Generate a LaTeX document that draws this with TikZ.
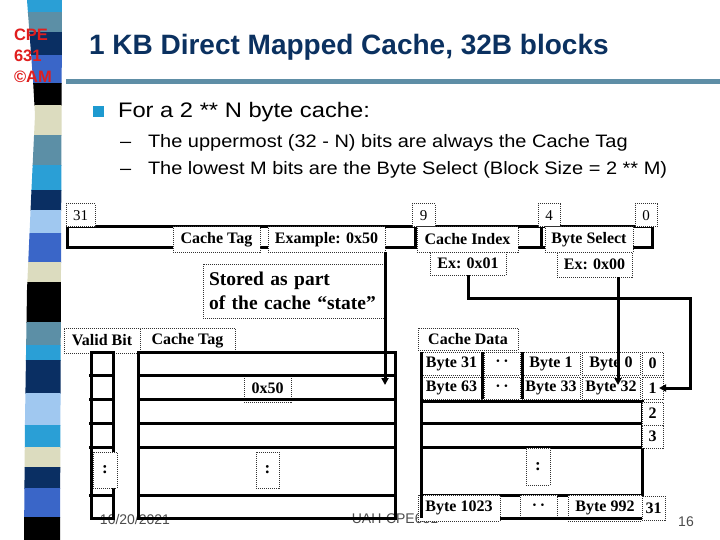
\documentclass[tikz,border=0pt]{standalone}
\usepackage{fontspec}
\usepackage{graphicx}
\setmainfont{Liberation Serif}
\newfontfamily\arialf{Liberation Sans}
\usetikzlibrary{arrows.meta}
\definecolor{cyanS}{HTML}{2A9FD6}
\definecolor{steelS}{HTML}{5C8FA6}
\definecolor{navyS}{HTML}{0A2F63}
\definecolor{royalS}{HTML}{3A66C8}
\definecolor{beigeS}{HTML}{DCDCBF}
\definecolor{lightS}{HTML}{A0C8F0}
\definecolor{titleC}{HTML}{0B3160}
\definecolor{ruleC}{HTML}{5E8EA6}
\definecolor{bulC}{HTML}{1E9AD0}
\definecolor{logoC}{HTML}{E01E1E}
\begin{document}
\begin{tikzpicture}[x=1pt,y=-1pt,
  every node/.style={inner sep=0pt, outer sep=0pt},
  lbl/.style={draw=black!80, dash pattern=on 1pt off 1pt, line width=1pt, fill=white, font=\fontsize{16}{18}\selectfont\bfseries},
  numb/.style={lbl, font=\fontsize{15}{17}\selectfont},
  thk/.style={line width=3pt},
  conn/.style={line width=3pt, -{Triangle[length=7pt,width=7pt]}},
  logo/.style={font=\arialf\bfseries\fontsize{16.5}{18}\selectfont, text=logoC, anchor=base west},
  bodytxt/.style={anchor=base west, font=\arialf\fontsize{18}{20}\selectfont},
  foot/.style={font=\arialf\fontsize{14}{16}\selectfont, text=black!70},
]
\useasboundingbox (0,0) rectangle (720,540);
\fill[white] (0,0) rectangle (720,540);

% left decorative stripe
\begin{scope}
\clip (27,0) -- (62,0) -- (60,540) -- (24,540) -- (25,420) -- (27,290) -- (31,200) -- (35,115) -- (33,80) -- cycle;
\foreach \ya/\yb/\cc in {0/12/cyanS, 12/32/steelS, 32/55/navyS, 55/83/royalS, 83/105/black,
  105/135/beigeS, 135/165/steelS, 165/190/cyanS, 190/210/navyS, 210/233/lightS, 233/262/royalS,
  262/282/beigeS, 282/322/black, 322/345/steelS, 345/360/cyanS, 360/393/navyS, 393/425/lightS,
  425/447/cyanS, 447/467/beigeS, 467/488/navyS, 488/517/royalS, 517/540/black}
  \fill[\cc] (0,\ya) rectangle (80,\yb+0.6);
\end{scope}

% logo
\node[logo] (cpe) at (14,41) {CPE};
\node[logo] (six) at (14,62) {631};
\node[logo] (cam) at (14,83) {©AM};

% title and rule
\node[anchor=base west, font=\arialf\bfseries\fontsize{28}{30}\selectfont, text=titleC] (title) at (89,55) {1 KB Direct Mapped Cache, 32B blocks};
\draw[ruleC, line width=5pt] (66,82) -- (720,82);

% bullets
\fill[bulC] (93,106) rectangle (104,117);
\node[anchor=base west, font=\arialf\fontsize{21}{24}\selectfont] (b1) at (118,118) {\scalebox{1.13}[1]{For a 2 ** N byte cache:}};
\node[bodytxt] (d1) at (120,148) {\scalebox{1.11}[1]{–}};
\node[bodytxt] (s1) at (148,148) {\scalebox{1.11}[1]{The uppermost (32 - N) bits are always the Cache Tag}};
\node[bodytxt] (d2) at (120,175) {\scalebox{1.11}[1]{–}};
\node[bodytxt] (s2) at (148,175) {\scalebox{1.11}[1]{The lowest M bits are the Byte Select (Block Size = 2 ** M)}};

% footer
\node[foot] (date) at (135,519) {10/20/2021};
\node[foot] (uah) at (395,519) {UAH-CPE631};
\node[foot] (pg) at (686,522) {16};

% address bar
\draw[thk] (67,227) rectangle (652,247);
\draw[thk] (415,227) -- (415,247);
\draw[thk] (541,227) -- (541,247);
\node[numb, minimum width=29, minimum height=23] (n31) at (80.5,215.5) {31};
\node[numb, minimum width=23, minimum height=23] (n9) at (423.5,215.5) {9};
\node[numb, minimum width=22, minimum height=23] (n4) at (549,215.5) {4};
\node[numb, minimum width=22, minimum height=23] (n0) at (646,215.5) {0};
\node[lbl, minimum width=87, minimum height=25] (ctag) at (216.5,239.5) {Cache Tag};
\node[lbl, minimum width=117, minimum height=25] (ex50) at (326.5,239.5) {Example: 0x50};
\node[lbl, minimum width=101, minimum height=25] (cidx) at (467.5,239.5) {Cache Index};
\node[lbl, minimum width=88, minimum height=25] (bsel) at (589,239.5) {Byte Select};
\node[lbl, minimum width=76, minimum height=23] (ex01) at (468,263.5) {Ex: 0x01};
\node[lbl, minimum width=75, minimum height=25] (ex00) at (594.5,264.5) {Ex: 0x00};

% stored note
\node[lbl, minimum width=182, minimum height=54, align=left, text width=170, font=\fontsize{19.5}{24}\selectfont\bfseries] (stored) at (294,291) {Stored as part\\of the cache “state”};

% table headers
\node[lbl, minimum width=76, minimum height=25] (vbit) at (102,340.5) {Valid Bit};
\node[lbl, minimum width=95, minimum height=25] (ttag) at (187.5,340.5) {Cache Tag};
\node[lbl, minimum width=100, minimum height=22] (cdata) at (468,339) {Cache Data};

% tag value
\node[lbl, minimum width=47, minimum height=27] (t50) at (267.5,388.5) {0x50};

% valid and tag columns
\draw[thk] (91,352) rectangle (113,518);
\draw[thk] (138,352) rectangle (395,518);
\foreach \yy in {375,399,423,447,495} {
  \draw[thk] (89,\yy) -- (113,\yy);
  \draw[thk] (138,\yy) -- (395,\yy);
}
\node[lbl, minimum width=24, minimum height=36, font=\fontsize{17}{19}\selectfont\bfseries] (vdots) at (105,470) {:};
\node[lbl, minimum width=23, minimum height=36, font=\fontsize{17}{19}\selectfont\bfseries] (tdots) at (267.5,470) {:};

% data array
\draw[thk] (421,401) rectangle (642,495);
\draw[thk] (421,423) -- (642,423);
\draw[thk] (421,447) -- (642,447);
\node[lbl, minimum width=24, minimum height=37, font=\fontsize{17}{19}\selectfont\bfseries] (ddots) at (538,466.5) {:};

\node[lbl, minimum width=61, minimum height=23] (b31) at (451.5,363.5) {Byte 31};
\node[lbl, minimum width=36, minimum height=23] (dd0) at (502,363.5) {·\,·};
\node[lbl, minimum width=58, minimum height=23] (b1x) at (551,363.5) {Byte 1};
\node[lbl, minimum width=58, minimum height=23] (b0x) at (611,363.5) {Byte 0};
\node[lbl, minimum width=21, minimum height=23] (i0) at (652.5,363.5) {0};

\node[lbl, minimum width=61, minimum height=22] (b63) at (451.5,388) {Byte 63};
\node[lbl, minimum width=36, minimum height=22] (dd1) at (502,388) {·\,·};
\node[lbl, minimum width=58, minimum height=22] (b33) at (551,388) {Byte 33};
\node[lbl, minimum width=58, minimum height=22] (b32) at (611,388) {Byte 32};
\node[lbl, minimum width=21, minimum height=22] (i1) at (652.5,388) {1};

\node[lbl, minimum width=21, minimum height=23] (i2) at (652.5,413.5) {2};
\node[lbl, minimum width=21, minimum height=23] (i3) at (652.5,436.5) {3};

\node[lbl, minimum width=82, minimum height=26] (b1023) at (459,508) {Byte 1023};
\node[lbl, minimum width=37, minimum height=24] (ddb) at (538.5,507) {·\,·};
\node[lbl, minimum width=74, minimum height=26] (b992) at (605,508) {Byte 992};
\node[lbl, minimum width=23, minimum height=24] (i31) at (653.5,508) {31};

\draw[thk] (421,352) -- (421,518);
\draw[thk] (482,352) -- (482,399);
\draw[thk] (522,352) -- (522,399);
\draw[thk] (500,518) -- (642,518);

% connectors
\coordinate (tagtip) at (385,385);
\draw[conn] (ex50.south east) -- (tagtip);
\coordinate (bstop) at (618,277);
\coordinate (bstip) at (618,385);
\draw[conn] (bstop) -- (bstip);
\coordinate (idxbend) at (690,298);
\draw[conn] (ex01.south) |- (idxbend) |- ([xshift=-4pt]i1.east);
\end{tikzpicture}
\end{document}
